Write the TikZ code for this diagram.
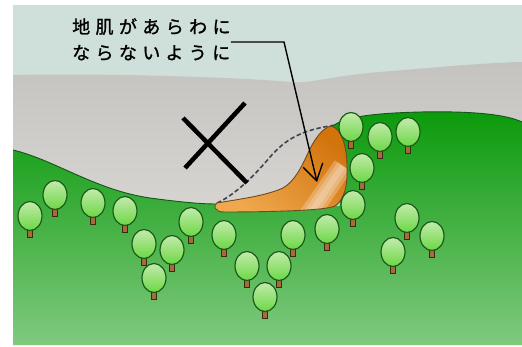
\documentclass[tikz,border=0pt]{standalone}
\usepackage{fontspec}
\usepackage{tikz}
\usetikzlibrary{arrows.meta}
\newfontfamily\jpfont{Noto Sans CJK JP}[LetterSpace=30,FakeBold=1.3]
\definecolor{sky}{HTML}{CFDFD9}
\definecolor{mtntop}{HTML}{C5C3C0}
\definecolor{mtnbot}{HTML}{E8E5E0}
\definecolor{grtop}{HTML}{0C9A0C}
\definecolor{grbot}{HTML}{80C97F}
\definecolor{hillline}{HTML}{14551A}
\definecolor{slidelight}{HTML}{F0A84E}
\definecolor{slidedark}{HTML}{D2740C}
\definecolor{slidehi}{HTML}{F6DEC4}
\definecolor{slideline}{HTML}{6B4A26}
\definecolor{scargray}{HTML}{3C4650}
\definecolor{canopyA}{HTML}{C2EBAB}
\definecolor{canopyB}{HTML}{6CD744}
\definecolor{treeline}{HTML}{1C5A1C}
\definecolor{trunkbrown}{HTML}{A86A3A}
\definecolor{trunkline}{HTML}{3A2A12}
\tikzstyle{mountain} = [top color=mtntop, bottom color=mtnbot]
\tikzstyle{ground} = [top color=grtop, bottom color=grbot]
\tikzstyle{ridge} = [draw, line width=0.9pt, color=hillline]
\tikzstyle{scar} = [draw, line width=1.6pt, color=scargray, dash pattern=on 4.5pt off 2.5pt]
\tikzstyle{slide} = [left color=slidelight, right color=slidedark, shading angle=140]
\tikzstyle{glint} = [draw, color=slidehi, opacity=0.35]
\tikzstyle{slideedge} = [draw, line width=0.9pt, color=slideline]
\tikzstyle{crossline} = [draw, line width=4.5pt, color=black]
\tikzstyle{canopy} = [draw=treeline, line width=1.2pt, top color=canopyA, bottom color=canopyB]
\tikzstyle{trunk} = [draw=trunkline, line width=0.8pt, fill=trunkbrown]
\tikzstyle{notetext} = [inner sep=0pt, align=left, anchor=north west, font=\jpfont\fontsize{18}{26}\selectfont]
\tikzstyle{leader} = [draw, line width=1.4pt, color=black, -{Straight Barb[length=16pt,width=20pt]}]
\newcommand{\treeat}[2]{\path[trunk] ({#1-2.5},{#2+12}) rectangle ({#1+2.5},{#2+21}); \path[canopy] (#1,#2) ellipse (12 and 14.5);}
\newcommand{\slidepath}{(217,203) .. controls (240,199) and (265,196) .. (283,188) .. controls (295,181) and (302,166) .. (308,153) .. controls (314,140) and (322,128) .. (331,126) .. controls (341,128) and (347,146) .. (347,166) .. controls (348,186) and (344,200) .. (335,206) .. controls (325,211) and (260,212) .. (224,212) .. controls (214,212) and (213,205) .. cycle}

\begin{document}
\begin{tikzpicture}[x=1pt,y=-1pt]
\useasboundingbox (0,0) rectangle (522,347);
\begin{scope}
\clip (13,5) rectangle (522,345);
\fill[sky] (13,5) rectangle (522,345);
\path[mountain] (13,75) .. controls (120,73) and (250,78) .. (290,82) .. controls (310,84) and (330,76) .. (380,72) .. controls (430,68) and (480,63) .. (522,62) -- (522,345) -- (13,345) -- cycle;
\path[ground] (13,150) .. controls (55,160) and (95,190) .. (150,198) .. controls (180,202) and (200,204) .. (217,204) -- (340,206) -- (333,126) .. controls (345,116) and (380,113) .. (420,112) .. controls (470,111) and (505,114) .. (522,122) -- (522,345) -- (13,345) -- cycle;
\path[ridge] (13,150) .. controls (55,160) and (95,190) .. (150,198) .. controls (180,202) and (200,204) .. (217,204);
\path[ridge] (333,126) .. controls (345,116) and (380,113) .. (420,112) .. controls (470,111) and (505,114) .. (522,122);
% old slope line
\path[scar] (217,203) .. controls (235,195) and (255,175) .. (270,157) .. controls (285,140) and (300,130) .. (336,125);
% landslide with a pale streak
\path[slide] \slidepath;
\begin{scope}
\clip \slidepath;
\coordinate (glintlow) at (307,218);
\coordinate (glinthigh) at (343,166);
\path[glint, line width=20pt] (glintlow) -- (glinthigh);
\path[glint, line width=13pt] (glintlow) -- (glinthigh);
\path[glint, line width=6pt] (glintlow) -- (glinthigh);
\end{scope}
\path[slideedge] \slidepath;
\path[crossline] (183,118) -- (247,183) (245,103) -- (185,168);
\treeat{351}{127} \treeat{408}{132} \treeat{380}{137} \treeat{362}{168}
\treeat{55}{195} \treeat{93}{203} \treeat{353}{205} \treeat{125}{211}
\treeat{30}{216} \treeat{407}{218} \treeat{191}{222} \treeat{327}{229}
\treeat{224}{235} \treeat{293}{235} \treeat{432}{236} \treeat{144}{244}
\treeat{172}{250} \treeat{393}{252} \treeat{247}{266} \treeat{279}{266}
\treeat{154}{278} \treeat{265}{297}
\end{scope}
\node[notetext] (note) at (72,18) {地肌があらわに\\ならないように};
\coordinate (elbow) at (284,42);
\coordinate (slip) at (317,182);
\path[leader] (note.east |- elbow) -- (elbow) -- (slip);
\end{tikzpicture}
\end{document}
